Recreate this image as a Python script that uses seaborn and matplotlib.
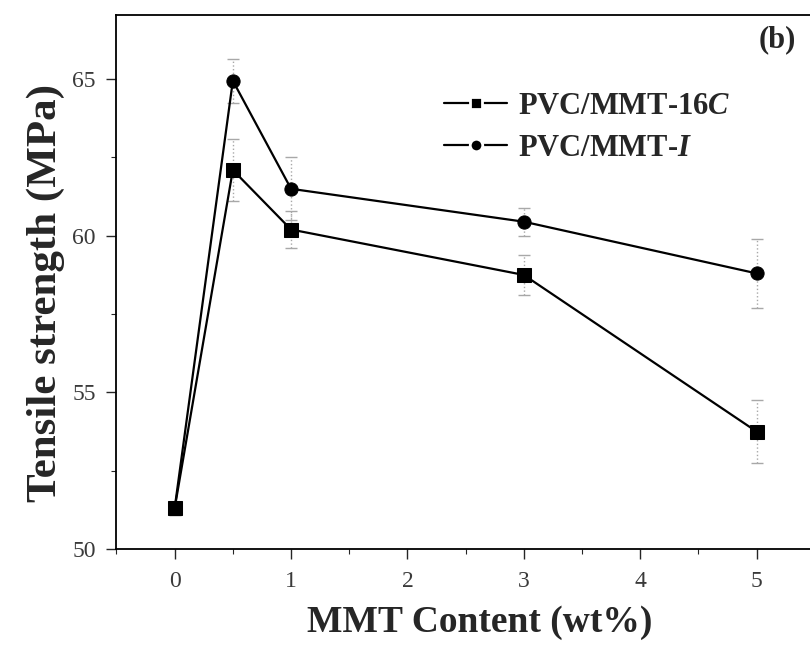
import matplotlib
matplotlib.use("Agg")
import matplotlib.pyplot as plt
from matplotlib.ticker import MultipleLocator
import seaborn as sns
import pandas as pd

# MMT loading (wt%) and tensile strength (MPa) of the two composites
mmt_content = [0, 0.5, 1, 3, 5]
strength_16c = [51.3, 62.1, 60.2, 58.75, 53.75]
strength_i = [51.3, 64.95, 61.5, 60.45, 58.8]
err_16c = [0.2, 1.0, 0.6, 0.65, 1.0]
err_i = [0.2, 0.7, 1.0, 0.45, 1.1]
series_names = ["PVC/MMT-16C", "PVC/MMT-I"]
legend_labels = [r"PVC/MMT-$\mathit{16C}$", r"PVC/MMT-$\mathit{I}$"]
x_ticks = [0, 1, 2, 3, 4, 5]
y_ticks = [50, 55, 60, 65]

sns.set_style("ticks")
plt.rcParams["font.family"] = ["Liberation Serif", "DejaVu Serif"]
plt.rcParams["mathtext.fontset"] = "custom"
plt.rcParams["mathtext.rm"] = "Liberation Serif:bold"
plt.rcParams["mathtext.it"] = "Liberation Serif:italic:bold"

df = pd.DataFrame({
    "content": mmt_content * 2,
    "strength": strength_16c + strength_i,
    "series": [series_names[0]] * len(mmt_content) + [series_names[1]] * len(mmt_content),
})

fig = plt.figure(figsize=(8.10, 6.46), dpi=100)
ax = fig.add_axes([0.1438, 0.1502, 0.862, 0.8266])

# dotted error bars behind the lines
for vals, errs in [(strength_16c, err_16c), (strength_i, err_i)]:
    eb = ax.errorbar(mmt_content, vals, yerr=errs, fmt="none", ecolor="#a8a8a8",
                     elinewidth=1.0, capsize=4, capthick=1.0, zorder=1)
    for col in eb[2]:
        col.set_linestyle(":")

sns.lineplot(data=df, x="content", y="strength", style="series",
             markers={series_names[0]: "s", series_names[1]: "o"},
             dashes=False, color="black", linewidth=1.6, markersize=9.5,
             markeredgecolor="black", ax=ax, zorder=3)

ax.set_xlim(-0.5, 5.5)
ax.set_ylim(50, 67.05)
ax.set_xticks(x_ticks)
ax.set_yticks(y_ticks)
ax.xaxis.set_minor_locator(MultipleLocator(0.5))
ax.yaxis.set_minor_locator(MultipleLocator(2.5))
ax.tick_params(axis="both", which="major", direction="out", length=7, width=1.0,
               labelsize=17, labelcolor="#3a3a3a")
ax.tick_params(axis="both", which="minor", direction="out", length=3.5, width=0.8)
ax.tick_params(axis="x", which="major", pad=9)
ax.tick_params(axis="y", which="major", pad=8)
for sp in ax.spines.values():
    sp.set_linewidth(1.3)
    sp.set_color("black")

ax.set_xlabel("MMT Content (wt%)", fontsize=27, fontweight="bold")
ax.set_ylabel("Tensile strength (MPa)", fontsize=31, fontweight="bold")
ax.xaxis.set_label_coords(0.52, -0.105)
ax.yaxis.set_label_coords(-0.074, 0.48)

# legend: line - marker - line with small gaps around the marker
handles, _ = ax.get_legend_handles_labels()
for h in handles[-2:]:
    h.set_markersize(9)
    h.set_markeredgecolor("white")
    h.set_markeredgewidth(2.0)
ax.legend(handles=handles[-2:], labels=legend_labels, loc="upper left",
          bbox_to_anchor=(0.43, 0.907), frameon=False,
          handlelength=2.05, handletextpad=0.35, labelspacing=0.42,
          prop={"weight": "bold", "size": 22})

fig.text(777 / 810, 1 - 40 / 646, "(b)", ha="center", va="center",
         fontsize=22, fontweight="bold")

fig.savefig("out.png", dpi=100)
